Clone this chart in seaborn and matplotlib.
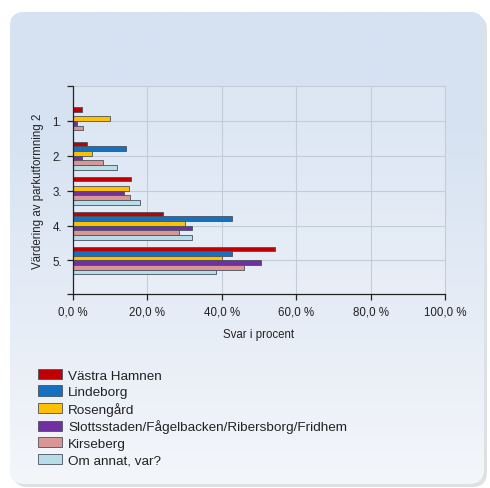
import numpy as np
import pandas as pd
import matplotlib
matplotlib.use("Agg")
import matplotlib.pyplot as plt
from matplotlib.patches import FancyBboxPatch
import seaborn as sns

# Survey answers: rating of park design, share of answers per district (%)
kategorier = ["1.", "2.", "3.", "4.", "5."]
omraden = [
    "Västra Hamnen",
    "Lindeborg",
    "Rosengård",
    "Slottsstaden/Fågelbacken/Ribersborg/Fridhem",
    "Kirseberg",
    "Om annat, var?",
]
vastra_hamnen = [2.3, 3.8, 15.7, 24.2, 54.2]
lindeborg = [0.0, 14.3, 0.0, 42.8, 42.8]
rosengard = [9.9, 5.2, 15.1, 30.1, 40.1]
slottsstaden = [1.2, 2.5, 13.7, 32.0, 50.6]
kirseberg = [2.8, 8.0, 15.3, 28.4, 46.1]
om_annat = [0.0, 11.7, 18.1, 32.0, 38.5]
x_ticks = [0, 20, 40, 60, 80, 100]
x_ticklabels = ["0,0 %", "20,0 %", "40,0 %", "60,0 %", "80,0 %", "100,0 %"]

farger = ["#C00000", "#1470C0", "#FFC000", "#7030A0", "#D99694", "#B7DEE8"]

serier = [vastra_hamnen, lindeborg, rosengard, slottsstaden, kirseberg, om_annat]
df = pd.DataFrame(
    [(k, o, v) for o, s in zip(omraden, serier) for k, v in zip(kategorier, s)],
    columns=["kategori", "område", "procent"],
)

sns.set_theme(style="white")
plt.rcParams["font.family"] = ["Liberation Sans", "DejaVu Sans"]

W, H = 490, 489
fig = plt.figure(figsize=(W / 100, H / 100), dpi=100)
fig.patch.set_facecolor("white")

# Rounded background panel with soft shadow and vertical gradient
px = lambda x, y: (x / W, 1 - y / H)
shadow = FancyBboxPatch(px(13, 488), 474 / W, 472 / H,
                        boxstyle="round,pad=0,rounding_size=0.03",
                        transform=fig.transFigure, facecolor="#C9CDD3",
                        edgecolor="none", alpha=0.6, zorder=0)
fig.patches.append(shadow)
panel = FancyBboxPatch(px(10, 485), 474 / W, 472 / H,
                       boxstyle="round,pad=0,rounding_size=0.03",
                       transform=fig.transFigure, facecolor="#D7E3F2",
                       edgecolor="none", zorder=0.5)
fig.patches.append(panel)
bg = fig.add_axes([0, 0, 1, 1], zorder=0.6)
bg.axis("off")
grad = np.linspace(0, 1, 256)[:, None]
top = np.array([214, 226, 242]) / 255
bot = np.array([244, 246, 250]) / 255
g = np.clip((grad - 0.25) / 0.75, 0, 1)
img = top * (1 - g[..., None]) + bot * g[..., None]
im = bg.imshow(img * np.ones((1, 2, 1)), aspect="auto", extent=[0, 1, 0, 1],
               transform=bg.transAxes)
clip = FancyBboxPatch(px(10, 485), 474 / W, 472 / H,
                      boxstyle="round,pad=0,rounding_size=0.03",
                      transform=fig.transFigure, facecolor="none", edgecolor="none")
im.set_clip_path(clip)

ax = fig.add_axes([73 / W, 1 - 295 / H, 372 / W, 208 / H], zorder=2)
ax.set_facecolor((1, 1, 1, 0.18))

sns.barplot(data=df, y="kategori", x="procent", hue="område", orient="h",
            palette=farger, saturation=1, edgecolor="#4A525C", linewidth=0.6,
            width=0.8, ax=ax, zorder=3)

ax.set_xlim(0, 100)
ax.set_ylim(5 - 0.04, -1)
ax.set_xticks(x_ticks)
ax.set_xticklabels(x_ticklabels, fontsize=8.3, color="#222222")
ax.set_yticks(range(len(kategorier)))
ax.set_yticklabels(kategorier, fontsize=8.3, color="#222222")
ax.set_yticks([-1, 4.96], minor=True)
ax.tick_params(axis="both", which="both", direction="out", length=4,
               width=0.9, color="#222222", left=True, bottom=True)
ax.tick_params(axis="y", which="minor", length=4)
ax.tick_params(axis="x", pad=4)
ax.tick_params(axis="y", pad=4)

for x in x_ticks[1:-1]:
    ax.axvline(x, color="#C3CCD8", linewidth=0.8, zorder=1)
for y in range(len(kategorier)):
    ax.axhline(y, color="#C3CCD8", linewidth=0.8, zorder=1)

for side in ["top", "right"]:
    ax.spines[side].set_color("#C3CCD8")
    ax.spines[side].set_linewidth(0.8)
for side in ["left", "bottom"]:
    ax.spines[side].set_color("#222222")
    ax.spines[side].set_linewidth(0.9)
    ax.spines[side].set_zorder(5)

ax.set_xlabel("Svar i procent", fontsize=8.3, color="#222222", labelpad=8)
ax.set_ylabel("Värdering av parkutformning 2", fontsize=8.3, color="#222222",
              labelpad=6)

handles, labels = ax.get_legend_handles_labels()
ax.get_legend().remove()
leg = fig.legend(handles, labels, loc="upper left",
                 bbox_to_anchor=(38 / W, 1 - 370 / H), frameon=False,
                 fontsize=9.7, handlelength=1.8, handleheight=0.8,
                 handletextpad=0.45, labelspacing=0.27, borderaxespad=0,
                 borderpad=0)
for t in leg.get_texts():
    t.set_color("#222222")

fig.savefig("out.png", dpi=100)
